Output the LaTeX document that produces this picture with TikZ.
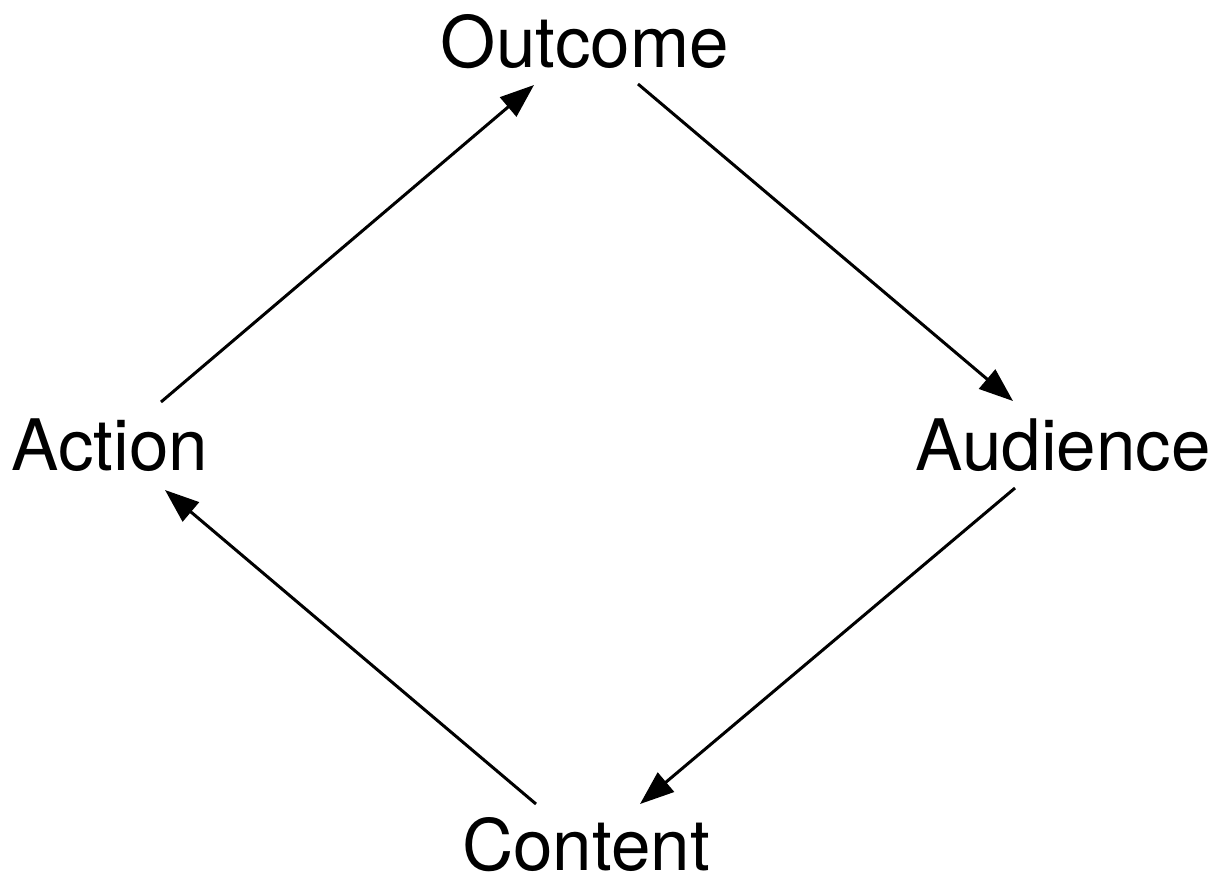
\documentclass[tikz,border=0pt]{standalone}
\usepackage{fontspec}
\setmainfont{TeX Gyre Heros}
\usetikzlibrary{arrows.meta}
\begin{document}
\begin{tikzpicture}[x=1pt,y=-1pt,
  lbl/.style={anchor=base,inner sep=0pt,font=\fontsize{71}{85}\selectfont},
  conn/.style={line width=3pt,-{Triangle[length=34pt,width=25pt]}}]
\useasboundingbox (0,0) rectangle (1225,879);
\node[lbl] (outcome) at (585,67) {Outcome};
\node[lbl] (action) at (110,470) {Action};
\node[lbl] (audience) at (1063,470) {Audience};
\node[lbl] (content) at (586,870) {Content};
\coordinate (a1) at (161,402); \coordinate (o1) at (534,85);
\coordinate (o2) at (638,84); \coordinate (u1) at (1013,401);
\coordinate (u2) at (1015,488); \coordinate (c1) at (640,804);
\coordinate (c2) at (536,804); \coordinate (a2) at (165,490);
\draw[conn] (a1) -- (o1);
\draw[conn] (o2) -- (u1);
\draw[conn] (u2) -- (c1);
\draw[conn] (c2) -- (a2);
\end{tikzpicture}
\end{document}
